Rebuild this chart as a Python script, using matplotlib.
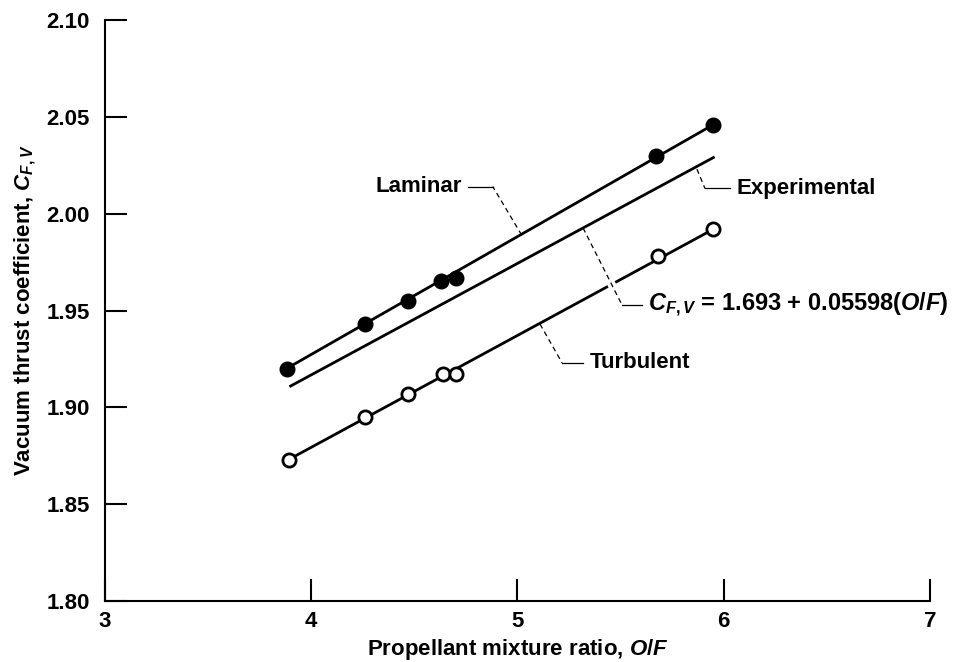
import matplotlib
matplotlib.use("Agg")
import matplotlib.pyplot as plt

# values
laminar_of = [3.88, 4.26, 4.47, 4.63, 4.70, 5.67, 5.95]
laminar_cf = [1.920, 1.943, 1.955, 1.965, 1.967, 2.030, 2.046]
turbulent_of = [3.89, 4.26, 4.47, 4.64, 4.70, 5.68, 5.95]
turbulent_cf = [1.873, 1.895, 1.907, 1.917, 1.917, 1.978, 1.992]

# straight lines drawn through each set (end points)
laminar_line_of = [3.88, 5.95]
laminar_line_cf = [1.920, 2.046]
turbulent_line_of = [3.89, 5.95]
turbulent_line_cf = [1.873, 1.992]
experimental_of = [3.90, 5.95]
experimental_cf = [1.911, 2.029]

xticks = [3, 4, 5, 6, 7]
yticks = [1.80, 1.85, 1.90, 1.95, 2.00, 2.05, 2.10]

plt.rcParams["font.family"] = ["Liberation Sans", "DejaVu Sans"]
plt.rcParams["font.weight"] = "bold"
plt.rcParams["axes.labelweight"] = "bold"
plt.rcParams["mathtext.fontset"] = "custom"
plt.rcParams["mathtext.rm"] = "Liberation Sans:bold"
plt.rcParams["mathtext.it"] = "Liberation Sans:italic:bold"
plt.rcParams["mathtext.bf"] = "Liberation Sans:bold"

FS = 16

fig = plt.figure(figsize=(9.59, 6.62), dpi=100)
ax = fig.add_axes([105 / 959, 1 - 601 / 662, (930 - 105) / 959, (601 - 20) / 662])

# fitted lines
ax.plot(laminar_line_of, laminar_line_cf, color="black", lw=2.0, zorder=2)
ax.plot(turbulent_line_of, turbulent_line_cf, color="black", lw=2.0, zorder=2)
ax.plot(experimental_of, experimental_cf, color="black", lw=2.0, zorder=2)

# data points
ax.plot(laminar_of, laminar_cf, "o", color="black", ms=10.5, zorder=3)
ax.plot(turbulent_of, turbulent_cf, "o", mfc="white", mec="black", mew=2.0,
        ms=9.5, zorder=3)


def leader(pts, text, ha="left", gap=False, size=FS):
    # pts: start on line, elbow, end of horizontal part
    (x0, y0), (x1, y1), (x2, y2) = pts
    if gap:
        # small white break where the leader crosses another line
        xa, ya = x0 + 0.25 * (x1 - x0), y0 + 0.25 * (y1 - y0)
        xb, yb = x0 + 0.85 * (x1 - x0), y0 + 0.85 * (y1 - y0)
        ax.plot([xa, xb], [ya, yb], color="white", lw=6, zorder=3.5,
                solid_capstyle="butt")
    ax.plot([x0, x1], [y0, y1], color="black", lw=0.9, ls=(0, (4, 3)), zorder=4)
    ax.plot([x1, x2], [y1, y2], color="black", lw=0.9, zorder=4)
    if ha == "left":
        ax.text(x2 + 0.03, y2, text, fontsize=size, ha="left", va="center")
    else:
        ax.text(x2 - 0.03, y2, text, fontsize=size, ha="right", va="center")


leader([(5.02, 1.989), (4.88, 2.014), (4.76, 2.014)], "Laminar", ha="right")
leader([(5.87, 2.023), (5.909, 2.013), (6.03, 2.013)], "Experimental")
leader([(5.318, 1.9926), (5.507, 1.9528), (5.604, 1.9528)],
       "$C_{F,V}$ = 1.693 + 0.05598($O/F$)", gap=True, size=17)
leader([(5.109, 1.943), (5.216, 1.923), (5.318, 1.923)], "Turbulent")

ax.set_xlim(3, 7)
ax.set_ylim(1.80, 2.10)
ax.set_xticks(xticks)
ax.set_yticks(yticks)
ax.set_yticklabels([f"{v:.2f}" for v in yticks])

ax.spines["top"].set_visible(False)
ax.spines["right"].set_visible(False)
ax.spines["left"].set_linewidth(1.5)
ax.spines["bottom"].set_linewidth(1.5)
ax.tick_params(axis="both", direction="in", length=16, width=1.5,
               labelsize=FS)
ax.tick_params(axis="y", pad=11)
ax.tick_params(axis="x", pad=7)

ax.set_xlabel("Propellant mixture ratio, $O/F$", fontsize=FS, labelpad=4)
ax.set_ylabel("Vacuum thrust coefficient, $C_{F,V}$", fontsize=FS, labelpad=6)

fig.savefig("out.png", dpi=100)
